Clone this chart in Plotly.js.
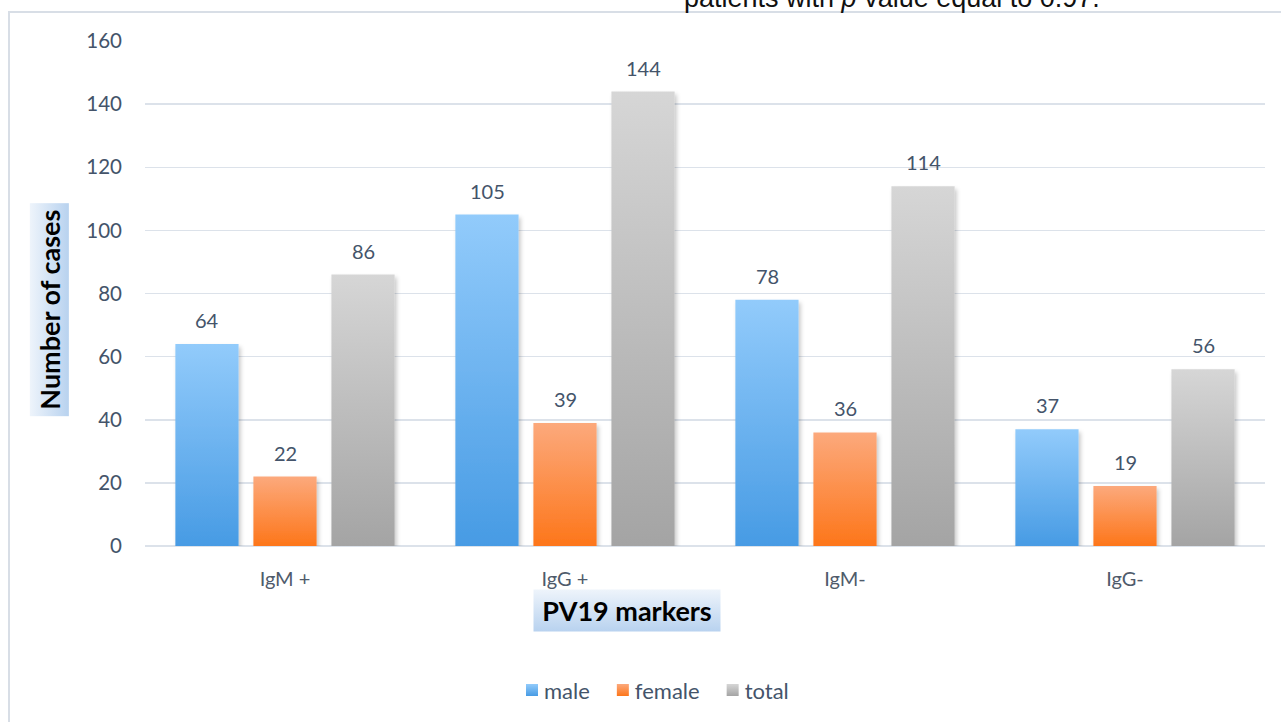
<!DOCTYPE html>
<html>
<head>
<meta charset="utf-8">
<script src="https://cdn.plot.ly/plotly-3.0.1.min.js"></script>
<style>
  html, body { margin: 0; padding: 0; background: #ffffff; }
  #chart { width: 1281px; height: 722px; }
</style>
</head>
<body>
<div id="chart"></div>
<script>
// ---- data ----
const categories = ['IgM +', 'IgG +', 'IgM-', 'IgG-'];
const seriesNames = ['male', 'female', 'total'];
const male = [64, 105, 78, 37];
const female = [22, 39, 36, 19];
const total = [86, 144, 114, 56];
const yTicks = [0, 20, 40, 60, 80, 100, 120, 140, 160];
const yTitle = 'Number of cases';
const xTitle = 'PV19 markers';
const captionText = 'patients with <i>p</i> value equal to 0.97.';

const seriesValues = [male, female, total];
const midColors = ['#6fb3ef', '#fd934c', '#bdbdbd'];
const gradStops = [
  ['#92cbfb', '#479be4'],
  ['#fca97c', '#fd761a'],
  ['#d6d6d6', '#a4a4a4']
];
const labelColor = '#44546a';
const font = 'Lato, "Open Sans", sans-serif';

const traces = seriesNames.map((name, i) => ({
  type: 'bar',
  name: name,
  x: categories,
  y: seriesValues[i],
  marker: { color: midColors[i], line: { width: 0 } },
  hoverinfo: 'none'
}));

// data labels as annotations placed through the axes
const offsets = [-78, 0, 78];
const annotations = [];
seriesValues.forEach((vals, i) => {
  vals.forEach((v, j) => {
    annotations.push({
      xref: 'x', yref: 'y', x: categories[j], y: v,
      xshift: offsets[i], yshift: 24,
      text: String(v), showarrow: false,
      xanchor: 'center', yanchor: 'middle',
      font: { family: font, size: 20, color: labelColor }
    });
  });
});

// axis titles
annotations.push({
  xref: 'paper', yref: 'paper', x: -0.0857, y: 0.468,
  text: '<b>' + yTitle + '</b>', textangle: -90, showarrow: false,
  xanchor: 'center', yanchor: 'middle',
  width: 212, height: 38, bgcolor: '#c9ddf2', borderpad: 0,
  font: { family: font, size: 27, color: '#000000' }
});
annotations.push({
  xref: 'paper', yref: 'paper', x: 0.4304, y: -0.1285,
  text: '<b>' + xTitle + '</b>', showarrow: false,
  xanchor: 'center', yanchor: 'middle',
  width: 186, height: 41, bgcolor: '#c9ddf2', borderpad: 0,
  font: { family: font, size: 27, color: '#000000' }
});
// clipped caption text from surrounding page
annotations.push({
  xref: 'paper', yref: 'paper', x: (682 - 145) / 1120, y: 1.086,
  text: captionText, showarrow: false,
  xanchor: 'left', yanchor: 'middle',
  font: { family: '"Liberation Sans Narrow", "Liberation Sans", sans-serif', size: 27, color: '#111111' }
});

const layout = {
  width: 1281, height: 722,
  margin: { l: 145, r: 16, t: 41, b: 175 },
  paper_bgcolor: '#ffffff', plot_bgcolor: '#ffffff',
  font: { family: font, size: 20, color: labelColor },
  barmode: 'group',
  bargap: 0.164,
  bargroupgap: 0.19,
  showlegend: true,
  legend: {
    orientation: 'h', x: 0.45, xanchor: 'center', y: -0.283, yanchor: 'middle',
    font: { family: font, size: 22, color: labelColor },
    itemwidth: 30, tracegroupgap: 0
  },
  xaxis: {
    type: 'category', showgrid: false, zeroline: false, showline: false,
    ticks: '', ticklabelstandoff: 19,
    tickfont: { family: font, size: 20, color: '#4f5b6b' }
  },
  yaxis: {
    range: [0, 160], tickvals: yTicks, ticktext: yTicks.map(String),
    showgrid: true, gridcolor: '#dce2ea', gridwidth: 1.5,
    zeroline: true, zerolinecolor: '#dce2ea', zerolinewidth: 1.5,
    showline: false, ticks: '', ticklabelstandoff: 22,
    tickfont: { family: font, size: 20.5, color: labelColor }
  },
  shapes: [{
    type: 'rect', xref: 'paper', yref: 'paper',
    x0: (9 - 145) / 1120, x1: 1.1, y0: -0.5, y1: (547 - 12) / 506,
    line: { color: '#d8dee6', width: 2 }, fillcolor: 'rgba(0,0,0,0)', layer: 'below'
  }],
  annotations: annotations
};

Plotly.newPlot('chart', traces, layout, { displayModeBar: false, staticPlot: true }).then(gd => {
  const NS = 'http://www.w3.org/2000/svg';
  const svg = gd.querySelector('.main-svg');
  let defs = svg.querySelector('defs');
  if (!defs) { defs = document.createElementNS(NS, 'defs'); svg.insertBefore(defs, svg.firstChild); }
  function addGrad(id, c1, c2, horizontal) {
    const g = document.createElementNS(NS, 'linearGradient');
    g.setAttribute('id', id);
    g.setAttribute('x1', '0'); g.setAttribute('y1', '0');
    g.setAttribute('x2', horizontal ? '1' : '0'); g.setAttribute('y2', horizontal ? '0' : '1');
    [[0, c1], [1, c2]].forEach(([o, c]) => {
      const s = document.createElementNS(NS, 'stop');
      s.setAttribute('offset', o); s.setAttribute('stop-color', c);
      g.appendChild(s);
    });
    defs.appendChild(g);
  }
  gradStops.forEach((s, i) => addGrad('bargrad' + i, s[0], s[1], false));
  addGrad('titlegradV', '#eef4fb', '#b8d2ef', false);
  const f = document.createElementNS(NS, 'filter');
  f.setAttribute('id', 'barshadow');
  f.setAttribute('x', '-20%'); f.setAttribute('y', '-20%');
  f.setAttribute('width', '140%'); f.setAttribute('height', '140%');
  const ds = document.createElementNS(NS, 'feDropShadow');
  ds.setAttribute('dx', '2'); ds.setAttribute('dy', '3');
  ds.setAttribute('stdDeviation', '2'); ds.setAttribute('flood-opacity', '0.22');
  f.appendChild(ds); defs.appendChild(f);

  gd.querySelectorAll('.barlayer .trace').forEach((t, i) => {
    t.querySelectorAll('.point path').forEach(p => {
      p.style.fill = 'url(#bargrad' + i + ')';
      p.setAttribute('filter', 'url(#barshadow)');
    });
  });
  gd.querySelectorAll('.legend .traces').forEach((t, i) => {
    t.querySelectorAll('.legendpoints').forEach(lp => {
      lp.setAttribute('transform', 'translate(8,0)');
      lp.querySelectorAll('path').forEach(p => { p.style.fill = 'url(#bargrad' + i + ')'; });
    });
  });
  gd.querySelectorAll('.annotation').forEach(a => {
    const txt = a.querySelector('.annotation-text');
    const bg = a.querySelector('rect.bg');
    if (!txt || !bg) return;
    const t = txt.textContent;
    if (t === yTitle || t === xTitle) bg.style.fill = 'url(#titlegradV)';
  });
});
</script>
</body>
</html>
